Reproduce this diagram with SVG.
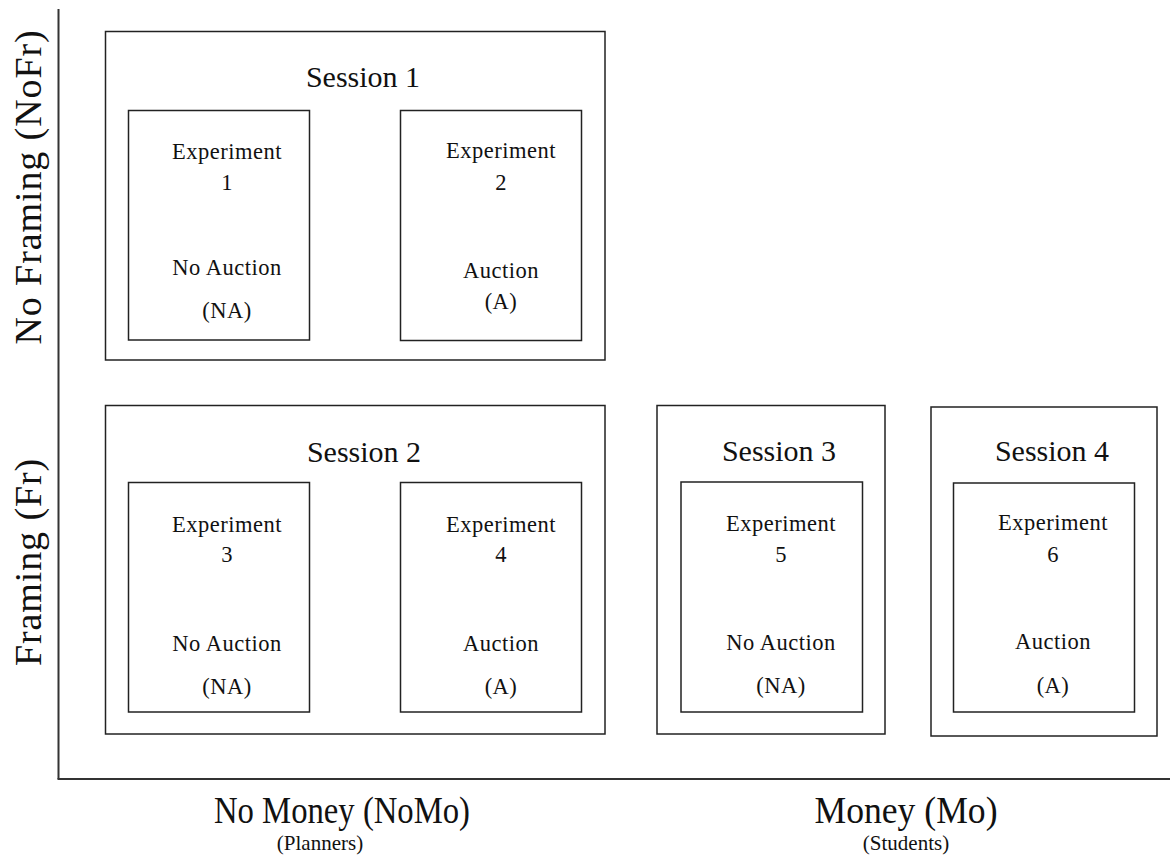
<svg xmlns="http://www.w3.org/2000/svg" width="1170" height="859" viewBox="0 0 1170 859">
  <style>
    .box { fill: none; stroke: #222; stroke-width: 1.5; }
    .axis { fill: none; stroke: #333; stroke-width: 2; }
    text { font-family: "Liberation Serif", "Times New Roman", Times, serif; fill: #111; text-anchor: middle; }
    .sess { font-size: 30px; }
    .exp { font-size: 22.5px; letter-spacing: 0.5px; }
    .ax { font-size: 38px; }
    .side { letter-spacing: 0.9px; }
    .sub { font-size: 21px; }
  </style>
  <rect width="1170" height="859" fill="#fff"/>

  <!-- axes -->
  <g id="connectors">
    <line class="axis" x1="58.5" y1="9" x2="58.5" y2="779"/>
    <line class="axis" x1="57.5" y1="779" x2="1170" y2="779"/>
  </g>

  <!-- axis labels -->
  <g id="axis-labels">
    <text class="ax side" transform="translate(41,187) rotate(-90)">No Framing (NoFr)</text>
    <text class="ax side" transform="translate(41,562) rotate(-90)">Framing (Fr)</text>
    <text class="ax" x="342" y="823" textLength="256" lengthAdjust="spacingAndGlyphs">No Money (NoMo)</text>
    <text class="sub" x="320" y="850">(Planners)</text>
    <text class="ax" x="906" y="823" textLength="183" lengthAdjust="spacingAndGlyphs">Money (Mo)</text>
    <text class="sub" x="906" y="850">(Students)</text>
  </g>

  <!-- Session 1 -->
  <g id="session1">
    <rect class="box" x="105.5" y="31.5" width="499.5" height="328.5"/>
    <text class="sess" x="363" y="87">Session 1</text>
  </g>
  <g id="experiment1">
    <rect class="box" x="128.5" y="110.5" width="181" height="229.5"/>
    <text class="exp" x="227" y="159">Experiment</text>
    <text class="exp" x="227" y="190">1</text>
    <text class="exp" x="227" y="275">No Auction</text>
    <text class="exp" x="227" y="318">(NA)</text>
  </g>
  <g id="experiment2">
    <rect class="box" x="400.5" y="110.5" width="181" height="230"/>
    <text class="exp" x="501" y="158">Experiment</text>
    <text class="exp" x="501" y="190">2</text>
    <text class="exp" x="501" y="278">Auction</text>
    <text class="exp" x="501" y="309">(A)</text>
  </g>

  <!-- Session 2 -->
  <g id="session2">
    <rect class="box" x="105.5" y="405.5" width="499.5" height="328.5"/>
    <text class="sess" x="364" y="462">Session 2</text>
  </g>
  <g id="experiment3">
    <rect class="box" x="128.5" y="482.5" width="181" height="229.5"/>
    <text class="exp" x="227" y="532">Experiment</text>
    <text class="exp" x="227" y="562">3</text>
    <text class="exp" x="227" y="651">No Auction</text>
    <text class="exp" x="227" y="694">(NA)</text>
  </g>
  <g id="experiment4">
    <rect class="box" x="400.5" y="482.5" width="181" height="229.5"/>
    <text class="exp" x="501" y="532">Experiment</text>
    <text class="exp" x="501" y="562">4</text>
    <text class="exp" x="501" y="651">Auction</text>
    <text class="exp" x="501" y="694">(A)</text>
  </g>

  <!-- Session 3 -->
  <g id="session3">
    <rect class="box" x="657" y="405.5" width="228" height="328.5"/>
    <text class="sess" x="779" y="461">Session 3</text>
  </g>
  <g id="experiment5">
    <rect class="box" x="681" y="482" width="181.5" height="230"/>
    <text class="exp" x="781" y="531">Experiment</text>
    <text class="exp" x="781" y="562">5</text>
    <text class="exp" x="781" y="650">No Auction</text>
    <text class="exp" x="781" y="693">(NA)</text>
  </g>

  <!-- Session 4 -->
  <g id="session4">
    <rect class="box" x="931" y="407" width="226" height="329"/>
    <text class="sess" x="1052" y="461">Session 4</text>
  </g>
  <g id="experiment6">
    <rect class="box" x="953.5" y="483" width="181" height="229"/>
    <text class="exp" x="1053" y="530">Experiment</text>
    <text class="exp" x="1053" y="562">6</text>
    <text class="exp" x="1053" y="649">Auction</text>
    <text class="exp" x="1053" y="693">(A)</text>
  </g>
</svg>
